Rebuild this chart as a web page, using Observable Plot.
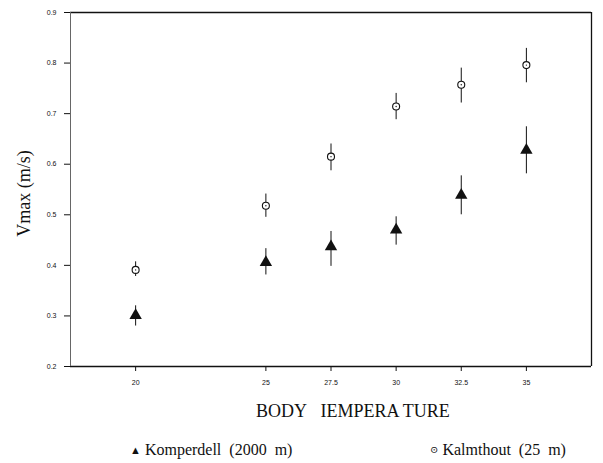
<!DOCTYPE html>
<html><head><meta charset="utf-8">
<script src="https://cdn.jsdelivr.net/npm/d3@7"></script>
<script src="https://cdn.jsdelivr.net/npm/@observablehq/plot@0.6"></script>
<style>
body{margin:0;background:#fff;}
#wrap{position:relative;width:603px;height:463px;}
.lab{position:absolute;font-family:"Liberation Serif","DejaVu Serif",serif;color:#111;white-space:pre;line-height:1;}
</style></head>
<body><div id="wrap"></div>
<script>
const temps = [20, 25, 27.5, 30, 32.5, 35];
const kalmMean = [0.391, 0.518, 0.615, 0.714, 0.757, 0.796];
const kalmLo   = [0.378, 0.495, 0.587, 0.688, 0.721, 0.761];
const kalmHi   = [0.407, 0.541, 0.640, 0.740, 0.790, 0.829];
const kompMean = [0.301, 0.406, 0.437, 0.470, 0.539, 0.628];
const kompLo   = [0.280, 0.381, 0.398, 0.440, 0.500, 0.581];
const kompHi   = [0.320, 0.433, 0.467, 0.496, 0.577, 0.674];
const yTicks = [0.2, 0.3, 0.4, 0.5, 0.6, 0.7, 0.8, 0.9];
const xTicks = [20, 25, 27.5, 30, 32.5, 35];

const kalm = temps.map((t,i)=>({t, m:kalmMean[i], lo:kalmLo[i], hi:kalmHi[i]}));
const komp = temps.map((t,i)=>({t, m:kompMean[i], lo:kompLo[i], hi:kompHi[i]}));

const chart = Plot.plot({
  width: 603, height: 420,
  marginLeft: 70, marginRight: 12, marginTop: 12, marginBottom: 54,
  style: {fontFamily: "Liberation Sans, Arial, sans-serif", fontSize: "7px", color: "#111", background: "#fff"},
  x: {domain: [17.5, 37.5], ticks: xTicks, tickSize: 5, tickPadding: 9, label: null, tickFormat: d => String(d)},
  y: {domain: [0.2, 0.9], ticks: yTicks, tickSize: 6, tickPadding: 8, label: null, tickFormat: d => d.toFixed(1)},
  marks: [
    Plot.ruleY([0.2], {stroke: "#111", strokeWidth: 1.3}),
    Plot.ruleY([0.9], {stroke: "#111", strokeWidth: 1.3}),
    Plot.ruleX([17.5], {stroke: "#666", strokeWidth: 1}),
    Plot.ruleX([37.5], {stroke: "#111", strokeWidth: 1.3}),
    Plot.ruleX(kalm, {x: "t", y1: "lo", y2: "hi", stroke: "#111", strokeWidth: 1}),
    Plot.ruleX(komp, {x: "t", y1: "lo", y2: "hi", stroke: "#111", strokeWidth: 1}),
    Plot.dot(kalm, {x: "t", y: "m", r: 3.5, stroke: "#111", strokeWidth: 1.1, fill: "#fff"}),
    Plot.dot(kalm, {x: "t", y: "m", r: 0.7, fill: "#111"}),
    Plot.dot(komp, {x: "t", y: "m", symbol: "triangle", r: 4.6, fill: "#111", stroke: "none"}),
    Plot.text(["Vmax (m/s)"], {frameAnchor: "left", textAnchor: "middle", dx: -46, dy: 4, rotate: -90, fontSize: 18, fontFamily: "Liberation Serif, DejaVu Serif, serif", fill: "#111"})
  ]
});
const wrap = document.getElementById("wrap");
wrap.appendChild(chart);

function lab(html, left, top, size) {
  const d = document.createElement("div");
  d.className = "lab";
  d.style.left = left + "px";
  d.style.top = top + "px";
  d.style.fontSize = size + "px";
  d.style.fontFamily = '"Liberation Serif", "DejaVu Serif", serif';
  d.innerHTML = html;
  wrap.appendChild(d);
}
lab("BODY&nbsp;&nbsp;&nbsp;IEMPERA TURE", 256, 402, 18);
lab('<span style="font-size:11px;position:relative;top:-1px">\u25B2</span> Komperdell&nbsp;&nbsp;(2000&nbsp;&nbsp;m)', 130, 442, 16);
lab('<span style="font-size:10px;position:relative;top:-2px">\u2299</span> Kalmthout&nbsp;&nbsp;(25&nbsp;&nbsp;m)', 430, 442, 16);
</script></body></html>
